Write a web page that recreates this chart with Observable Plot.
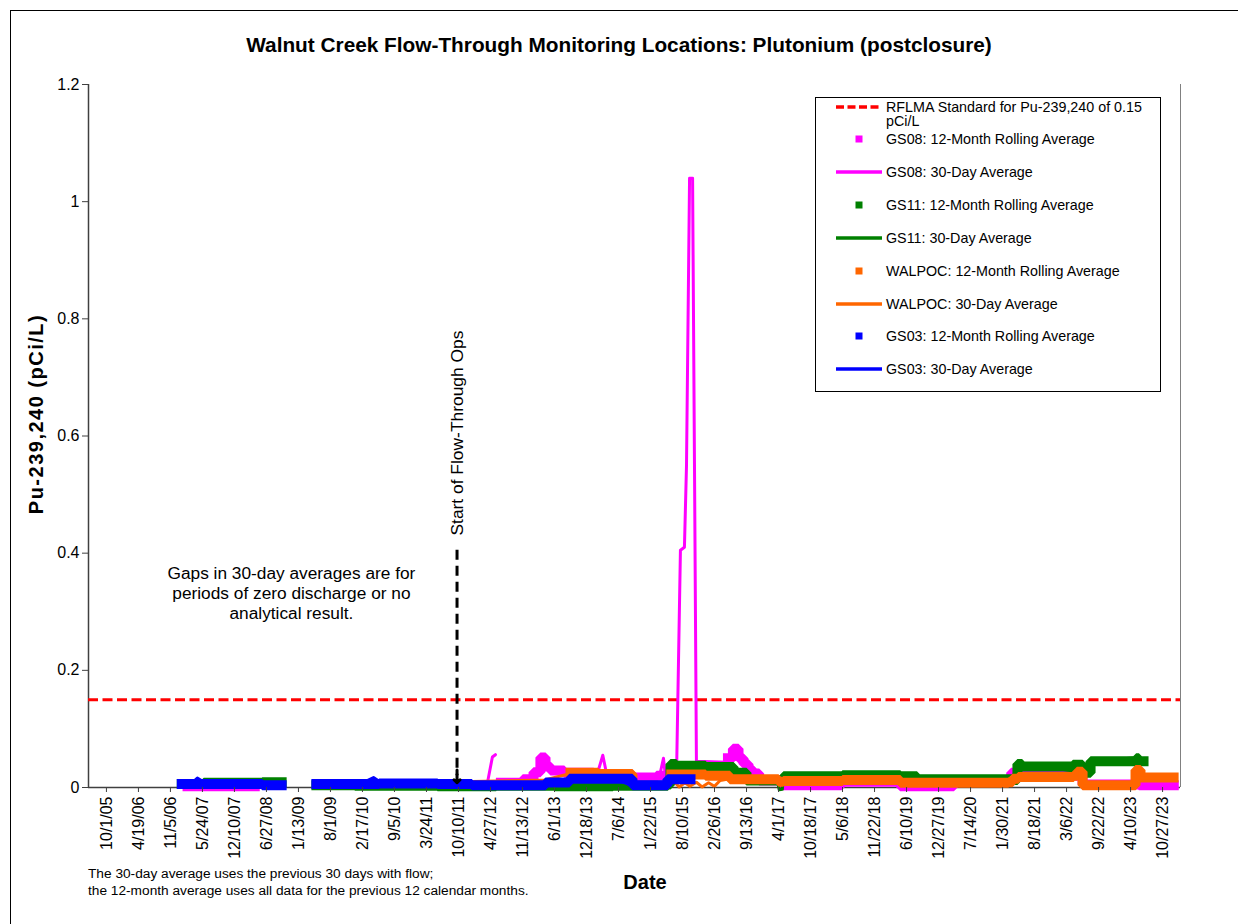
<!DOCTYPE html>
<html><head><meta charset="utf-8">
<script src="https://cdn.jsdelivr.net/npm/d3@7"></script>
<script src="https://cdn.jsdelivr.net/npm/@observablehq/plot@0.6"></script>
<style>
body{margin:0;background:#fff;font-family:"Liberation Sans",Arial,sans-serif;color:#000}
#wrap{position:relative;width:1238px;height:924px;overflow:hidden;background:#fff}
#border{position:absolute;left:10px;top:10px;width:1300px;height:1000px;border:1px solid #000}
#chart{position:absolute;left:0;top:0}
.title{position:absolute;left:0;width:1238px;top:33px;text-align:center;font-weight:bold;font-size:20.8px;line-height:24px}
.ylab{position:absolute;left:36px;top:414px;transform:translate(-50%,-50%) rotate(-90deg);font-weight:bold;font-size:20px;letter-spacing:1.5px;white-space:nowrap}
.xlab{position:absolute;left:645px;top:882px;transform:translate(-50%,-50%);font-weight:bold;font-size:20px}
.foot{position:absolute;left:88px;top:865px;font-size:13.7px;line-height:17px;white-space:nowrap}
#legend{position:absolute;left:815px;top:97px;width:346px;height:295px;border:1px solid #000;background:#fff;box-sizing:border-box}
.li{position:absolute;font-size:14.3px;line-height:14px;white-space:nowrap}
</style></head><body>
<div id="wrap">
<div id="border"></div>
<div id="chart"></div>
<div class="title">Walnut Creek Flow-Through Monitoring Locations: Plutonium (postclosure)</div>
<div class="ylab">Pu-239,240 (pCi/L)</div>
<div class="xlab">Date</div>
<div class="foot">The 30-day average uses the previous 30 days with flow;<br>the 12-month average uses all data for the previous 12 calendar months.</div>
<div id="legend"></div>
</div>
<script>
// ---------- data ----------
const xTickLabels = ["10/1/05","4/19/06","11/5/06","5/24/07","12/10/07","6/27/08","1/13/09","8/1/09","2/17/10","9/5/10","3/24/11","10/10/11","4/27/12","11/13/12","6/1/13","12/18/13","7/6/14","1/22/15","8/10/15","2/26/16","9/13/16","4/1/17","10/18/17","5/6/18","11/22/18","6/10/19","12/27/19","7/14/20","1/30/21","8/18/21","3/6/22","9/22/22","4/10/23","10/27/23"];
const yTicks = [0, 0.2, 0.4, 0.6, 0.8, 1, 1.2];
const yTickLabels = ["0","0.2","0.4","0.6","0.8","1","1.2"];
const standard = 0.15;

const gs08_12mo = [["2007-02-20",0.002],["2008-04-15",0.002],null,
 ["2012-07-01",0.008],["2012-11-15",0.014],["2013-01-21",0.026],["2013-03-05",0.051],["2013-04-06",0.036],["2013-05-07",0.029],["2013-08-01",0.025],["2014-02-01",0.022],["2014-10-01",0.017],["2015-03-01",0.02],["2015-07-01",0.022],null,
 ["2016-05-20",0.05],["2016-06-20",0.066],["2016-07-25",0.05],["2016-08-25",0.04],["2016-09-25",0.03],["2016-10-25",0.024],["2016-12-01",0.012],["2017-05-01",0.004],["2018-04-01",0.004],["2018-05-01",0.01],["2019-05-01",0.002],["2020-03-01",0.002],["2020-04-01",0.01],["2021-03-01",0.012],["2021-03-25",0.025],["2021-05-01",0.02],["2022-06-14",0.005],["2023-04-20",0.005],["2023-06-01",0.004],["2024-01-05",0.004]];
const gs08_30d = [["2007-03-01",0.002],["2008-04-01",0.002],null,
 ["2012-04-08",0.008],["2012-05-09",0.052],["2012-05-28",0.056],null,
 ["2014-02-20",0.02],["2014-03-30",0.055],["2014-04-25",0.02],null,
 ["2015-03-20",0.02],["2015-04-13",0.05],["2015-04-25",0.02],null,
 ["2015-06-20",0.012],["2015-07-03",0.012],["2015-07-28",0.405],["2015-08-22",0.41],["2015-09-04",0.55],["2015-09-23",1.04],["2015-10-12",1.04],["2015-11-05",0.045],["2016-05-10",0.043]];
const gs11_12mo = [["2007-01-15",0.006],["2007-06-01",0.008],["2008-06-01",0.009],["2008-09-30",0.009],null,
 ["2009-05-05",0.004],["2010-01-01",0.003],["2011-06-01",0.002],["2012-06-01",0.003],["2013-06-01",0.002],["2014-06-01",0.003],["2015-05-10",0.005],["2015-05-27",0.04],["2015-07-01",0.037],["2016-01-01",0.035],["2016-06-24",0.025],["2016-09-13",0.012],["2017-03-20",0.012],["2017-05-02",0.019],["2018-05-06",0.021],["2019-05-02",0.019],["2019-08-14",0.014],["2021-04-02",0.013],["2021-05-03",0.04],["2021-06-01",0.036],["2022-04-15",0.039],["2022-06-14",0.025],["2022-08-03",0.045],["2023-05-15",0.05],["2023-06-01",0.045],["2023-06-30",0.045]];
const gs11_30d = [["2007-01-15",0.005],["2008-09-30",0.008],null,
 ["2009-05-05",0.003],["2012-06-01",0.002],["2015-05-10",0.004],["2015-05-27",0.042],["2016-06-24",0.033],["2016-09-13",0.013],["2017-03-25",0.012],["2017-04-05",-0.004],["2017-04-25",-0.003],["2017-05-02",0.019],["2019-05-02",0.019],["2019-08-14",0.013],["2021-04-02",0.013],["2021-05-03",0.042],["2022-06-14",0.026],["2022-08-03",0.045],["2023-05-15",0.051],["2023-06-30",0.044]];
const walpoc_12mo = [["2013-09-09",0.025],["2014-03-01",0.023],["2014-10-01",0.021],null,
 ["2015-06-01",0.022],["2016-01-01",0.02],["2016-06-01",0.014],["2017-04-01",0.01],["2017-05-01",0.011],["2018-05-06",0.013],["2019-05-02",0.008],["2021-03-08",0.009],["2021-04-02",0.015],["2021-05-08",0.018],["2022-04-19",0.02],["2022-05-10",0.027],["2022-06-14",0.004],["2023-05-01",0.004],["2023-05-11",0.03],["2023-06-11",0.017],["2024-01-04",0.017]];
const walpoc_30d = [["2011-10-22",0.01],["2012-06-01",0.011],["2013-04-01",0.013],["2013-09-09",0.024],["2014-09-20",0.022],null,
 ["2015-06-25",0.008],["2015-07-20",0.001],["2015-08-25",0.008],["2015-09-25",0.002],["2015-11-05",0.009],["2015-12-10",0.001],["2016-01-20",0.008],["2016-02-25",0.002],["2016-04-01",0.012],["2016-06-01",0.015],["2017-04-01",0.009],["2018-05-01",0.012],["2019-05-01",0.007],["2021-03-01",0.008],["2021-05-08",0.022],["2022-04-19",0.024],["2022-05-10",0.03],["2022-06-14",0.003],["2023-05-01",0.003],["2023-05-11",0.034],["2023-06-11",0.016],["2024-01-04",0.016]];
const gs03_12mo = [["2007-01-15",0.006],["2007-06-01",0.006],["2008-01-01",0.006],["2008-06-01",0.004],["2008-09-30",0.004],null,
 ["2009-05-05",0.006],["2010-06-01",0.007],["2011-06-01",0.006],["2012-01-01",0.004],["2013-04-06",0.0085],["2013-09-02",0.015],["2014-10-01",0.004],["2015-05-08",0.014],["2015-09-29",0.014]];
const gs03_30d = [["2007-01-15",0.005],["2007-03-20",0.008],["2007-04-22",0.016],["2007-06-15",0.007],["2007-12-01",0.006],["2008-06-01",0.003],["2008-09-30",0.004],null,
 ["2009-05-05",0.005],["2010-02-01",0.006],["2010-04-27",0.017],["2010-06-15",0.008],["2011-01-01",0.006],["2011-09-01",0.004],["2012-06-01",0.005],["2013-04-06",0.006],["2013-05-06",0.01],["2013-09-02",0.012],["2014-06-01",0.016],["2014-10-01",0.003],["2015-05-08",0.005],["2015-06-08",0.013],["2015-09-29",0.015]];

const flowStart = "2011-10-01";
const gapNote = "Gaps in 30-day averages are for\nperiods of zero discharge or no\nanalytical result.";
const flowNote = "Start of Flow-Through Ops";
const legendLabels = ["RFLMA Standard for Pu-239,240 of 0.15 pCi/L","GS08: 12-Month Rolling Average","GS08: 30-Day Average","GS11: 12-Month Rolling Average","GS11: 30-Day Average","WALPOC: 12-Month Rolling Average","WALPOC: 30-Day Average","GS03: 12-Month Rolling Average","GS03: 30-Day Average"];
const colors = {GS08:"#ff00ff", GS11:"#008000", WALPOC:"#ff6600", GS03:"#0000ff", STD:"#ff0000"};

// ---------- build ----------
const parseTick = s => { const [m,d,y] = s.split("/").map(Number); return new Date(Date.UTC(2000+y, m-1, d)); };
const tickDates = xTickLabels.map(parseTick);
const labelByTime = new Map(tickDates.map((d,i)=>[+d, xTickLabels[i]]));
const rows = arr => arr.map(p => p ? {date:new Date(p[0]), value:p[1]} : {date:null, value:NaN});
const DAY = 864e5;
const xDomain = [new Date(+tickDates[0] - 112*DAY), new Date(+tickDates[tickDates.length-1] + 112*DAY)];

const band = (arr, c) => Plot.line(rows(arr), {x:"date", y:"value", stroke:c, strokeWidth:10, curve:"step-after", strokeLinecap:"square", strokeLinejoin:"miter"});
const thin = (arr, c) => Plot.line(rows(arr), {x:"date", y:"value", stroke:c, strokeWidth:3, strokeLinejoin:"round", strokeLinecap:"round"});

const chart = Plot.plot({
  width:1238, height:924,
  marginLeft:88, marginRight:58, marginTop:84, marginBottom:137,
  style:{fontFamily:"'Liberation Sans', Arial, sans-serif", fontSize:"16px", color:"#000", background:"transparent", overflow:"visible"},
  x:{type:"utc", domain:xDomain},
  y:{domain:[0,1.2]},
  marks:[
    Plot.ruleY([0], {stroke:"#404040", strokeWidth:1.5}),
    Plot.ruleX([xDomain[0]], {stroke:"#404040", strokeWidth:1.5}),
    Plot.ruleX([xDomain[1]], {stroke:"#808080", strokeWidth:1}),
    Plot.ruleY([standard], {stroke:colors.STD, strokeWidth:3, strokeDasharray:"10,4.5"}),
    band(gs08_12mo, colors.GS08), thin(gs08_30d, colors.GS08),
    band(gs11_12mo, colors.GS11), thin(gs11_30d, colors.GS11),
    band(walpoc_12mo, colors.WALPOC), thin(walpoc_30d, colors.WALPOC),
    band(gs03_12mo, colors.GS03), thin(gs03_30d, colors.GS03),
    Plot.axisX({ticks:tickDates, tickFormat:d => labelByTime.get(+d), tickRotate:-90, tickSize:5, tickPadding:4, fontSize:16, label:null, stroke:"#404040"}),
    Plot.axisY({ticks:yTicks, tickFormat:(d,i) => yTickLabels[yTicks.indexOf(d)], tickSize:6, tickPadding:3, fontSize:16, label:null, stroke:"#404040"}),
    Plot.ruleX([new Date(flowStart)], {y1:0.405, y2:0.02, stroke:"#000", strokeWidth:3, strokeDasharray:"10,6"}),
    Plot.arrow([new Date(flowStart)], {x1:d=>d, x2:d=>d, y1:0.03, y2:0.008, stroke:"#000", strokeWidth:3, headLength:12, headAngle:90}),
    Plot.text([flowNote], {x:new Date(+new Date(flowStart) + 5*DAY), y:0.605, text:d=>d, rotate:-90, fontSize:17.4}),
    Plot.text([gapNote], {x:new Date("2008-11-30"), y:0.333, text:d=>d, fontSize:17.3, lineHeight:1.156})
  ]
});
document.getElementById("chart").appendChild(chart);

// ---------- legend ----------
const leg = document.getElementById("legend");
const L = 815, T = 97;
const kinds = ["dash","sq","line","sq","line","sq","line","sq","line"];
const kcol = [colors.STD, colors.GS08, colors.GS08, colors.GS11, colors.GS11, colors.WALPOC, colors.WALPOC, colors.GS03, colors.GS03];
legendLabels.forEach((lab, i) => {
  const cy = i === 0 ? 105.7 : 138.3 + (i-1)*32.85;
  const sym = document.createElementNS("http://www.w3.org/2000/svg","svg");
  sym.setAttribute("width", 50); sym.setAttribute("height", 12);
  sym.style.position = "absolute"; sym.style.left = (834 - L) + "px"; sym.style.top = (cy - 6 - T) + "px";
  if (kinds[i] === "sq") {
    sym.innerHTML = `<rect x="20.5" y="2.5" width="7" height="7" fill="${kcol[i]}"/>`;
  } else {
    sym.innerHTML = `<line x1="1" x2="47" y1="6" y2="6" stroke="${kcol[i]}" stroke-width="3.3" ${kinds[i]==="dash" ? 'stroke-dasharray="8,3.5"' : ''}/>`;
  }
  leg.appendChild(sym);
  const t = document.createElement("div");
  t.className = "li";
  t.style.left = (885 - L) + "px";
  t.style.top = (cy - 7 - T) + "px";
  if (i === 0) { t.style.whiteSpace = "normal"; t.style.width = "262px"; }
  t.textContent = lab;
  leg.appendChild(t);
});
</script>
</body></html>
